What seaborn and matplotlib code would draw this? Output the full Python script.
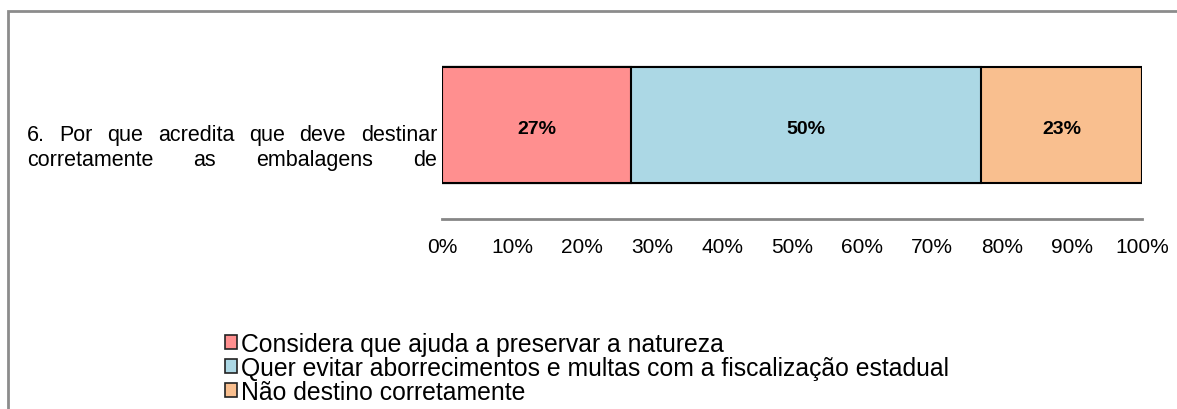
import matplotlib
matplotlib.use("Agg")
import matplotlib.pyplot as plt
import matplotlib.patches as mpatches
from matplotlib import font_manager
import seaborn as sns
import pandas as pd
import numpy as np

categories = ["6. Por que acredita que deve destinar corretamente as embalagens de"]
series_names = ["Considera que ajuda a preservar a natureza",
                "Quer evitar aborrecimentos e multas com a fiscalização estadual",
                "Não destino corretamente"]
series_values = [27, 50, 23]
series_colors = ["#FF8F8F", "#ACD8E5", "#F9BF8F"]
tick_values = [0, 10, 20, 30, 40, 50, 60, 70, 80, 90, 100]
tick_labels = ["0%", "10%", "20%", "30%", "40%", "50%", "60%", "70%", "80%", "90%", "100%"]
label_lines = [["6.", "Por", "que", "acredita", "que", "deve", "destinar"],
               ["corretamente", "as", "embalagens", "de"]]

sns.set_theme(style="white")
plt.rcParams['font.family'] = ['Liberation Sans', 'DejaVu Sans']
plt.rcParams['text.color'] = 'black'
plt.rcParams['legend.labelcolor'] = 'black'

W, H = 1177, 410
fig = plt.figure(figsize=(W / 100, H / 100), dpi=100)
ax = fig.add_axes([442 / W, (H - 220) / H, 700 / W, 188 / H])

cum = np.cumsum(series_values)
# draw from the largest cumulative total so segments stack
for i in reversed(range(len(series_values))):
    df = pd.DataFrame({"cat": categories, "val": [cum[i]]})
    sns.barplot(data=df, x="val", y="cat", orient="h", ax=ax,
                color=series_colors[i], saturation=1, width=0.617,
                edgecolor="black", linewidth=1.5)

centers = cum - np.array(series_values) / 2
for c, v in zip(centers, series_values):
    ax.text(c, 0.02, f"{v}%", ha="center", va="center", fontsize=14,
            fontweight="bold", color="black")

ax.set_xlim(0, 100)
ax.set_ylim(0.5, -0.5)
ax.set_xticks(tick_values)
narrow = [f.name for f in font_manager.fontManager.ttflist if f.name == "Liberation Sans Narrow"]
tick_family = ["Liberation Sans Narrow"] if narrow else ["Liberation Sans"]
ax.set_xticklabels(tick_labels, fontsize=15, family=tick_family)
ax.tick_params(axis="x", length=0, pad=13, colors="black")
ax.set_yticks([])
ax.set_xlabel("")
ax.set_ylabel("")
for s in ["top", "right", "left"]:
    ax.spines[s].set_visible(False)
ax.spines["bottom"].set_color("#868686")
ax.spines["bottom"].set_linewidth(2)

# justified category label
fig.canvas.draw()
renderer = fig.canvas.get_renderer()
x_left, x_right = 27, 437
baselines = [141, 166]
for words, base in zip(label_lines, baselines):
    texts = [fig.text(0, 1 - base / H, w, fontsize=15.5, va="baseline", ha="left", color="black")
             for w in words]
    widths = [t.get_window_extent(renderer).width for t in texts]
    gap = (x_right - x_left - sum(widths)) / (len(words) - 1)
    x = x_left
    for t, w in zip(texts, widths):
        t.set_x(x / W)
        x += w + gap

handles = [mpatches.Patch(facecolor=c, edgecolor="#222222", linewidth=1.2) for c in series_colors]
fig.legend(handles, series_names, loc="upper left",
           bbox_to_anchor=(225 / W, 1 - 333 / H), frameon=False, fontsize=17.8,
           handlelength=0.5, handleheight=0.5, handletextpad=0.15,
           labelspacing=0.0, borderaxespad=0, borderpad=0, labelcolor="black")

frame = mpatches.Rectangle((8 / W, -0.1), 1.2, 0.1 + (H - 12) / H,
                           transform=fig.transFigure, fill=False,
                           edgecolor="#8c8c8c", linewidth=2, clip_on=False)
fig.patches.append(frame)

fig.savefig("out.png", dpi=100, facecolor="white")
